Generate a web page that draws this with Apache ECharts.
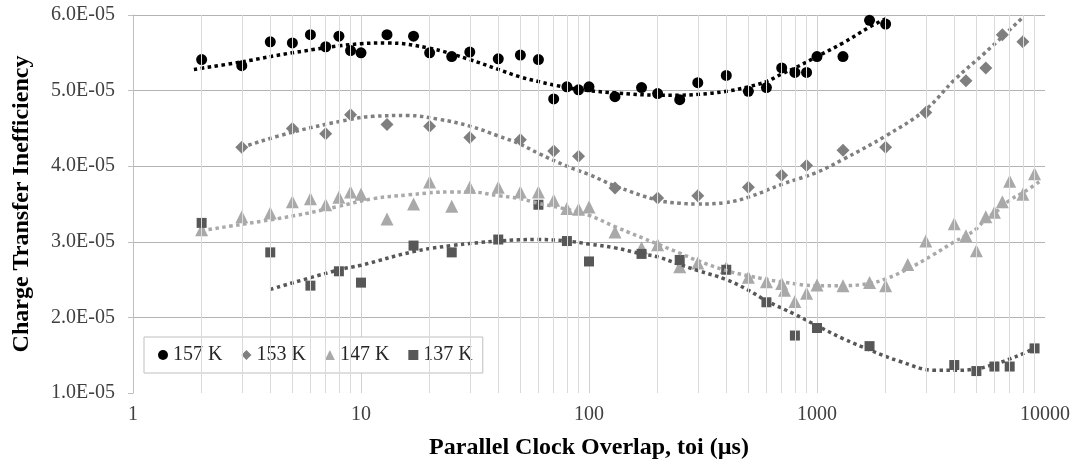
<!DOCTYPE html>
<html>
<head>
<meta charset="utf-8">
<script src="https://cdn.jsdelivr.net/npm/echarts@6/dist/echarts.min.js"></script>
<style>html,body{margin:0;padding:0;background:#fff;}#c{width:1075px;height:465px;}</style>
</head>
<body>
<div id="c"></div>
<script>
// ---- data ----
const x157 = [2,3,4,5,6,7,8,9,10,13,17,20,25,30,40,50,60,70,80,90,100,130,170,200,250,300,400,500,600,700,800,900,1000,1300,1700,2000];
const y157 = [5.41e-5,5.33e-5,5.645e-5,5.63e-5,5.74e-5,5.58e-5,5.72e-5,5.53e-5,5.50e-5,5.74e-5,5.72e-5,5.50e-5,5.45e-5,5.51e-5,5.42e-5,5.47e-5,5.41e-5,4.89e-5,5.05e-5,5.01e-5,5.05e-5,4.92e-5,5.04e-5,4.96e-5,4.88e-5,5.105e-5,5.20e-5,4.99e-5,5.04e-5,5.30e-5,5.24e-5,5.24e-5,5.45e-5,5.45e-5,5.93e-5,5.88e-5];

const x153 = [3,5,7,9,13,20,30,50,70,90,130,200,300,500,700,900,1300,2000,3000,4500,5500,6500,8000];
const y153 = [4.25e-5,4.50e-5,4.43e-5,4.68e-5,4.55e-5,4.53e-5,4.38e-5,4.35e-5,4.20e-5,4.13e-5,3.71e-5,3.58e-5,3.61e-5,3.72e-5,3.88e-5,4.01e-5,4.21e-5,4.25e-5,4.71e-5,5.13e-5,5.30e-5,5.74e-5,5.645e-5];

const x147 = [2,3,4,5,6,7,8,9,10,13,17,20,25,30,40,50,60,70,80,90,100,130,170,200,250,300,400,500,600,700,720,800,900,1000,1300,1700,2000,2500,3000,4000,4500,5000,5500,6000,6500,7000,8000,9000];
const y147 = [3.16e-5,3.33e-5,3.38e-5,3.53e-5,3.57e-5,3.49e-5,3.59e-5,3.66e-5,3.63e-5,3.30e-5,3.50e-5,3.79e-5,3.47e-5,3.72e-5,3.72e-5,3.66e-5,3.66e-5,3.55e-5,3.44e-5,3.43e-5,3.46e-5,3.13e-5,2.92e-5,2.96e-5,2.67e-5,2.72e-5,2.66e-5,2.53e-5,2.47e-5,2.45e-5,2.36e-5,2.21e-5,2.32e-5,2.43e-5,2.42e-5,2.46e-5,2.42e-5,2.70e-5,3.01e-5,3.24e-5,3.08e-5,2.88e-5,3.33e-5,3.39e-5,3.53e-5,3.80e-5,3.63e-5,3.90e-5];

const x137 = [2,4,6,8,10,17,25,40,60,80,100,170,250,400,600,800,1000,1700,4000,5000,6000,7000,9000];
const y137 = [3.25e-5,2.86e-5,2.42e-5,2.61e-5,2.46e-5,2.95e-5,2.86e-5,3.03e-5,3.49e-5,3.01e-5,2.74e-5,2.84e-5,2.76e-5,2.63e-5,2.20e-5,1.76e-5,1.86e-5,1.62e-5,1.37e-5,1.29e-5,1.35e-5,1.35e-5,1.59e-5];

// trend lines
const t157x = [1.85,3,5,10,13,20,30,40,50,60,80,100,130,200,250,300,400,500,600,700,800,1000,1300,1700,2000];
const t157y = [5.28e-5,5.38e-5,5.50e-5,5.62e-5,5.63e-5,5.56e-5,5.41e-5,5.28e-5,5.18e-5,5.12e-5,5.04e-5,5.00e-5,4.97e-5,4.94e-5,4.94e-5,4.95e-5,4.99e-5,5.05e-5,5.12e-5,5.22e-5,5.30e-5,5.45e-5,5.63e-5,5.84e-5,5.95e-5];

const t153x = [3,5,9,11.3,16,22,30,40,50,60,80,100,130,200,250,300,400,500,700,1000,1300,2000,3000,4000,5500,8000];
const t153y = [4.25e-5,4.45e-5,4.62e-5,4.66e-5,4.67e-5,4.62e-5,4.53e-5,4.40e-5,4.29e-5,4.17e-5,4.00e-5,3.89e-5,3.74e-5,3.55e-5,3.51e-5,3.50e-5,3.52e-5,3.59e-5,3.76e-5,3.92e-5,4.09e-5,4.40e-5,4.75e-5,5.14e-5,5.51e-5,5.97e-5];

const t147x = [2,5,8,11.3,16,25,30,40,50,60,80,100,130,200,250,300,400,500,700,1000,1300,1700,2000,2500,3200,4000,4500,5000,5500,6300,7000,8000,9500];
const t147y = [3.15e-5,3.34e-5,3.47e-5,3.57e-5,3.62e-5,3.66e-5,3.66e-5,3.61e-5,3.57e-5,3.51e-5,3.43e-5,3.35e-5,3.20e-5,2.97e-5,2.85e-5,2.75e-5,2.62e-5,2.55e-5,2.47e-5,2.42e-5,2.42e-5,2.45e-5,2.51e-5,2.64e-5,2.82e-5,3.00e-5,3.08e-5,3.17e-5,3.30e-5,3.43e-5,3.55e-5,3.65e-5,3.80e-5];

const t137x = [4,8,10,17,25,40,60,80,100,130,170,200,250,300,400,500,600,800,1000,1300,1700,2300,3300,4000,5000,6000,7000,8000,9000];
const t137y = [2.37e-5,2.63e-5,2.69e-5,2.87e-5,2.95e-5,3.01e-5,3.03e-5,3.01e-5,2.97e-5,2.92e-5,2.84e-5,2.80e-5,2.70e-5,2.62e-5,2.50e-5,2.36e-5,2.22e-5,2.04e-5,1.89e-5,1.72e-5,1.57e-5,1.42e-5,1.30e-5,1.30e-5,1.32e-5,1.38e-5,1.45e-5,1.52e-5,1.59e-5];

const minorGrid = [2,3,4,5,6,7,8,9,20,30,40,50,60,70,80,90,200,300,400,500,600,700,800,900,2000,3000,4000,5000,6000,7000,8000,9000];
const seriesNames = ['157 K','153 K','147 K','137 K'];
// -------------------------------------

const FONT = 'Liberation Serif';
const pairs = (xs, ys) => xs.map((x, i) => [x, ys[i]]);
function sci(v) {
  const s = Number(v).toExponential(1);
  const parts = s.split('e');
  const n = parseInt(parts[1], 10);
  return parts[0] + 'E' + (n < 0 ? '-' : '+') + String(Math.abs(n)).padStart(2, '0');
}

const colors = ['#000000', '#7f7f7f', '#a9a9a9', '#575757'];
const symbols = ['circle', 'diamond', 'triangle', 'rect'];
const sizes = [11, 13, 13, 10];
const dataSets = [pairs(x157, y157), pairs(x153, y153), pairs(x147, y147), pairs(x137, y137)];
const trendSets = [pairs(t157x, t157y), pairs(t153x, t153y), pairs(t147x, t147y), pairs(t137x, t137y)];

const series = [{
  type: 'line', name: 'grid', data: [], silent: true, z: 1,
  markLine: {
    silent: true, symbol: ['none', 'none'], label: { show: false }, animation: false,
    lineStyle: { color: '#dadada', width: 1, type: 'solid' },
    data: minorGrid.map(v => ({ xAxis: v }))
  }
}];
seriesNames.forEach((n, i) => {
  series.push({
    type: 'scatter', name: n, data: dataSets[i], symbol: symbols[i], symbolSize: sizes[i],
    itemStyle: { color: colors[i], opacity: 1 }, z: 3
  });
});
seriesNames.forEach((n, i) => {
  series.push({
    type: 'line', name: n + ' trend', data: trendSets[i], smooth: 0.4, showSymbol: false, symbol: 'none',
    lineStyle: { color: colors[i], width: 3.5, type: [3.5, 3.5] }, z: 4, silent: true
  });
});

const chart = echarts.init(document.getElementById('c'), null, { renderer: 'canvas' });
chart.setOption({
  animation: false,
  backgroundColor: '#ffffff',
  textStyle: { fontFamily: FONT },
  grid: { left: 133, right: 30, top: 15, bottom: 71, containLabel: false },
  legend: {
    data: seriesNames,
    left: 144, top: 337,
    orient: 'horizontal',
    padding: [8, 10, 8, 14],
    itemGap: 19, itemWidth: 10, itemHeight: 10,
    borderColor: '#bfbfbf', borderWidth: 1, backgroundColor: '#ffffff',
    textStyle: { fontFamily: FONT, fontSize: 20, color: '#262626' }
  },
  xAxis: {
    type: 'log', logBase: 10, min: 1, max: 10000,
    name: 'Parallel Clock Overlap, toi (µs)', nameLocation: 'middle', nameGap: 43,
    nameTextStyle: { fontFamily: FONT, fontSize: 24, fontWeight: 'bold', color: '#000' },
    axisLine: { show: false }, axisTick: { show: false },
    axisLabel: { fontFamily: FONT, fontSize: 20, color: '#404040', margin: 12, formatter: v => String(Math.round(v)) },
    splitLine: { show: true, showMinLine: false, showMaxLine: false, lineStyle: { color: '#d0d0d0', width: 1 } }
  },
  yAxis: {
    type: 'value', min: 1e-5, max: 6e-5, interval: 1e-5,
    name: 'Charge Transfer Inefficiency', nameLocation: 'middle', nameGap: 99,
    nameTextStyle: { fontFamily: FONT, fontSize: 24, fontWeight: 'bold', color: '#000' },
    axisLine: { show: true, lineStyle: { color: '#bfbfbf', width: 1 } },
    axisTick: { show: true, inside: false, length: 5, lineStyle: { color: '#bfbfbf' } },
    axisLabel: { fontFamily: FONT, fontSize: 20, color: '#404040', margin: 18, formatter: v => sci(v) },
    splitLine: { show: true, showMinLine: false, lineStyle: { color: '#b3b3b3', width: 1 } }
  },
  series: series
});
</script>
</body>
</html>
